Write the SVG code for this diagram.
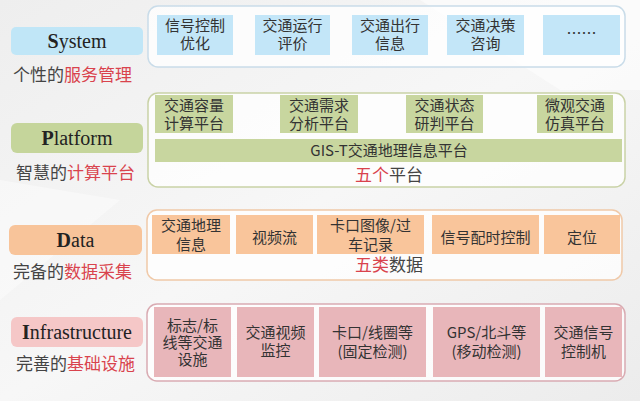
<svg xmlns="http://www.w3.org/2000/svg" width="640" height="401" viewBox="0 0 640 401">
<defs>
<linearGradient id="bg" x1="0" y1="0" x2="1" y2="1">
<stop offset="0" stop-color="#eeeeee"/>
<stop offset="0.5" stop-color="#f7f7f7"/>
<stop offset="1" stop-color="#ececec"/>
</linearGradient>
<style>
.t{font-family:"Noto Sans CJK SC","Noto Sans",sans-serif;font-size:15px;fill:#333;text-anchor:middle}
.sub{font-family:"Noto Sans CJK SC",sans-serif;font-size:17px;fill:#444}
.red{fill:#d9434d}
.lbl{font-family:"Liberation Serif",serif;font-size:20px;fill:#222;text-anchor:middle}
.b{font-weight:bold}
.cont{fill:#ffffff;fill-opacity:0.75;stroke-width:1.5}
.blue{fill:#c3e6f8}
.green{fill:#c8d69f}
.orange{fill:#f9c59b}
.pink{fill:#e8b6ba}
</style>
</defs>
<rect x="0" y="0" width="640" height="401" fill="url(#bg)"/>
<polygon points="420,0 640,0 640,90 560,90" fill="#ffffff" opacity="0.5"/>
<polygon points="0,180 120,200 0,300" fill="#ffffff" opacity="0.4"/>

<!-- System layer -->
<g id="system">
<rect x="11" y="27" width="132" height="28" rx="5" fill="#c0e6f7"/>
<text class="lbl" x="77" y="48"><tspan class="b">S</tspan>ystem</text>
<text class="sub" x="13" y="81">个性的<tspan class="red">服务管理</tspan></text>
<rect class="cont" x="148" y="6" width="477" height="61" rx="10" stroke="#c9dce9"/>
<g id="s1"><rect class="blue" x="157" y="15" width="76" height="40"/><text class="t" x="195" y="31">信号控制<tspan x="195" dy="18">优化</tspan></text></g>
<g id="s2"><rect class="blue" x="255" y="15" width="75" height="40"/><text class="t" x="292.5" y="31">交通运行<tspan x="292.5" dy="18">评价</tspan></text></g>
<g id="s3"><rect class="blue" x="352" y="15" width="76" height="40"/><text class="t" x="390" y="31">交通出行<tspan x="390" dy="18">信息</tspan></text></g>
<g id="s4"><rect class="blue" x="447" y="15" width="77" height="40"/><text class="t" x="485.5" y="31">交通决策<tspan x="485.5" dy="18">咨询</tspan></text></g>
<g id="s5"><rect class="blue" x="543" y="15" width="77" height="40"/><text class="t" x="581.5" y="39">……</text></g>
</g>

<!-- Platform layer -->
<g id="platform">
<rect x="11" y="123" width="132" height="30" rx="6" fill="#c5d59b"/>
<text class="lbl" x="77" y="145"><tspan class="b">P</tspan>latform</text>
<text class="sub" x="16" y="179">智慧的<tspan class="red">计算平台</tspan></text>
<rect class="cont" x="148" y="93" width="477" height="94" rx="10" stroke="#c9d2a6"/>
<g id="p1"><rect class="green" x="155" y="95" width="78" height="38"/><text class="t" x="194" y="111">交通容量<tspan x="194" dy="18">计算平台</tspan></text></g>
<g id="p2"><rect class="green" x="280" y="95" width="78" height="38"/><text class="t" x="319" y="111">交通需求<tspan x="319" dy="18">分析平台</tspan></text></g>
<g id="p3"><rect class="green" x="406" y="95" width="77" height="38"/><text class="t" x="444.5" y="111">交通状态<tspan x="444.5" dy="18">研判平台</tspan></text></g>
<g id="p4"><rect class="green" x="537" y="95" width="76" height="38"/><text class="t" x="575" y="111">微观交通<tspan x="575" dy="18">仿真平台</tspan></text></g>
<g id="p5"><rect class="green" x="155" y="139" width="467" height="23"/><text class="t" x="389" y="155.5">GIS-T交通地理信息平台</text></g>
<text class="sub" x="389" y="181" text-anchor="middle"><tspan class="red">五个</tspan>平台</text>
</g>

<!-- Data layer -->
<g id="data">
<rect x="9" y="225" width="133" height="30" rx="6" fill="#f8c49a"/>
<text class="lbl" x="75.5" y="247"><tspan class="b">D</tspan>ata</text>
<text class="sub" x="13" y="278">完备的<tspan class="red">数据采集</tspan></text>
<rect class="cont" x="147" y="210" width="475" height="70" rx="10" stroke="#f0c9a8"/>
<g id="d1"><rect class="orange" x="152" y="215" width="78" height="39"/><text class="t" x="191" y="231">交通地理<tspan x="191" dy="19">信息</tspan></text></g>
<g id="d2"><rect class="orange" x="236" y="215" width="77" height="39"/><text class="t" x="274.5" y="242.5">视频流</text></g>
<g id="d3"><rect class="orange" x="317" y="215" width="107" height="39"/><text class="t" x="370.5" y="231">卡口图像/过<tspan x="370.5" dy="19">车记录</tspan></text></g>
<g id="d4"><rect class="orange" x="432" y="215" width="107" height="39"/><text class="t" x="485.5" y="242.5">信号配时控制</text></g>
<g id="d5"><rect class="orange" x="544" y="215" width="76" height="39"/><text class="t" x="582" y="242.5">定位</text></g>
<text class="sub" x="389" y="271" text-anchor="middle"><tspan class="red">五类</tspan>数据</text>
</g>

<!-- Infrastructure layer -->
<g id="infrastructure">
<rect x="11" y="317" width="132" height="30" rx="6" fill="#f5c7c7"/>
<text class="lbl" x="77" y="339"><tspan class="b">I</tspan>nfrastructure</text>
<text class="sub" x="16" y="370">完善的<tspan class="red">基础设施</tspan></text>
<rect class="cont" x="147" y="304" width="478" height="77" rx="10" stroke="#d9abb2"/>
<g id="i1"><rect class="pink" x="154" y="307" width="77" height="70"/><text class="t" x="192.5" y="331">标志/标<tspan x="192.5" dy="17">线等交通</tspan><tspan x="192.5" dy="17">设施</tspan></text></g>
<g id="i2"><rect class="pink" x="237" y="307" width="77" height="70"/><text class="t" x="275.5" y="338">交通视频<tspan x="275.5" dy="18">监控</tspan></text></g>
<g id="i3"><rect class="pink" x="319" y="307" width="107" height="70"/><text class="t" x="372.5" y="338">卡口/线圈等<tspan x="372.5" dy="19">(固定检测)</tspan></text></g>
<g id="i4"><rect class="pink" x="433" y="307" width="107" height="70"/><text class="t" x="486.5" y="338">GPS/北斗等<tspan x="486.5" dy="19">(移动检测)</tspan></text></g>
<g id="i5"><rect class="pink" x="545" y="307" width="77" height="70"/><text class="t" x="583.5" y="338">交通信号<tspan x="583.5" dy="19">控制机</tspan></text></g>
</g>
<g id="connectors"/>
</svg>
